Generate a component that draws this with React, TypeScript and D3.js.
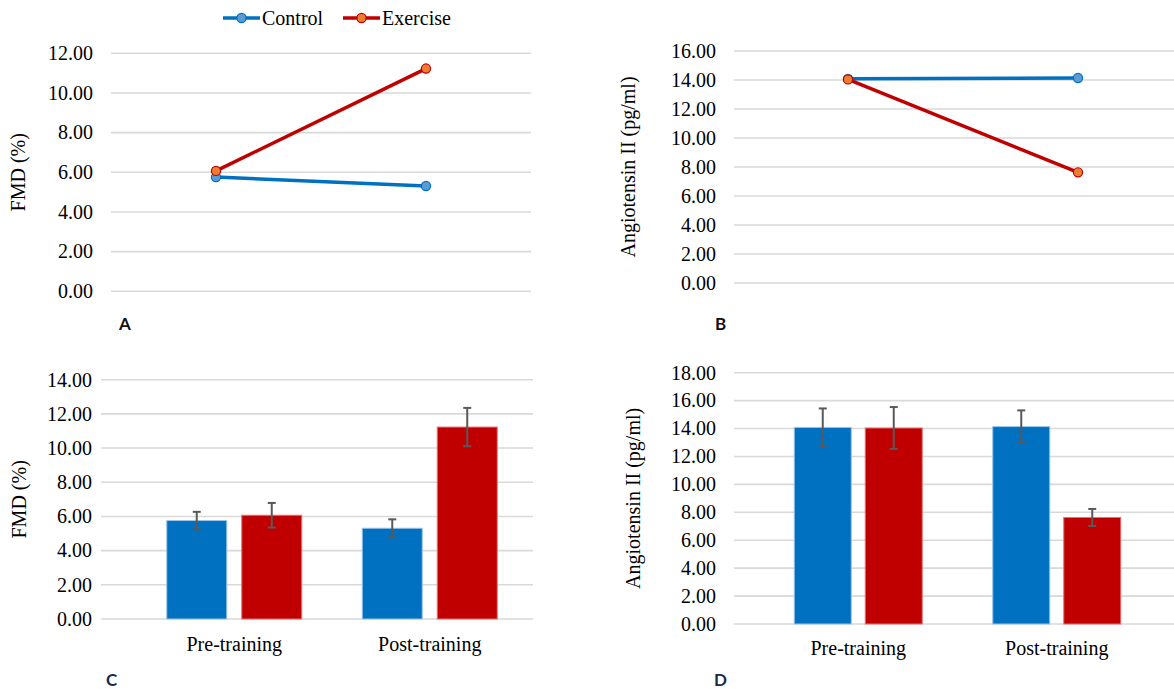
import React from "react";
import * as d3 from "d3";

// ---------- data ----------
const phases = ["Pre-training", "Post-training"];
const groups = ["Control", "Exercise"];

const fmdControl = [5.76, 5.31];
const fmdExercise = [6.07, 11.23];
const fmdControlErr = [0.51, 0.52];
const fmdExerciseErr = [0.72, 1.12];

const angControl = [14.08, 14.14];
const angExercise = [14.04, 7.63];
const angControlErr = [1.36, 1.16];
const angExerciseErr = [1.5, 0.61];

const fmdLineTicks = [0, 2, 4, 6, 8, 10, 12];
const angLineTicks = [0, 2, 4, 6, 8, 10, 12, 14, 16];
const fmdBarTicks = [0, 2, 4, 6, 8, 10, 12, 14];
const angBarTicks = [0, 2, 4, 6, 8, 10, 12, 14, 16, 18];

const BLUE = "#0070C0";
const RED = "#C00000";
const BLUE_MK = "#5B9BD5";
const RED_MK = "#ED7D31";
const GRID = "#D9D9D9";
const SERIF = "'Liberation Serif', 'Times New Roman', serif";
const SANS = "Lato, 'Open Sans', 'Liberation Sans', sans-serif";
const fmt = d3.format(".2f");

type Panel = {
  gx0: number; gx1: number; y0: number; y1: number; max: number;
  ticks: number[]; labelX: number; titleX: number; title: string;
};

function Grid({ p, y }: { p: Panel; y: d3.ScaleLinear<number, number> }) {
  return (
    <g>
      {p.ticks.map((t) => (
        <g key={t}>
          <line x1={p.gx0} x2={p.gx1} y1={y(t)} y2={y(t)} stroke={GRID} strokeWidth={1.6} />
          <text x={p.labelX} y={y(t)} dy="0.34em" textAnchor="end" fontFamily={SERIF} fontSize={20} fill="#000">
            {fmt(t)}
          </text>
        </g>
      ))}
      <text
        transform={`translate(${p.titleX},${(y(0) + y(p.max)) / 2}) rotate(-90)`}
        textAnchor="middle" dy="0.34em" fontFamily={SERIF} fontSize={20} fill="#000"
      >
        {p.title}
      </text>
    </g>
  );
}

function LinePanel({ p, bx0, bx1, control, exercise }: { p: Panel; bx0: number; bx1: number; control: number[]; exercise: number[] }) {
  const y = d3.scaleLinear().domain([0, p.max]).range([p.y0, p.y1]);
  const x = d3.scaleBand().domain(phases).range([bx0, bx1]);
  const cx = (d: string) => (x(d) as number) + x.bandwidth() / 2;
  const line = d3.line<number>().x((_, i) => cx(phases[i])).y((v) => y(v));
  const series = [
    { vals: control, c: BLUE, mk: BLUE_MK },
    { vals: exercise, c: RED, mk: RED_MK },
  ];
  return (
    <g>
      <Grid p={p} y={y} />
      {series.map((s, si) => (
        <g key={si}>
          <path d={line(s.vals) || ""} fill="none" stroke={s.c} strokeWidth={3.5} />
          {s.vals.map((v, i) => (
            <circle key={i} cx={cx(phases[i])} cy={y(v)} r={4.6} fill={s.mk} stroke={s.c} strokeWidth={1.2} />
          ))}
        </g>
      ))}
    </g>
  );
}

function BarPanel({ p, bx0, bx1, inner, pad, control, exercise, cErr, eErr, catY }: {
  p: Panel; bx0: number; bx1: number; inner: number; pad: number;
  control: number[]; exercise: number[]; cErr: number[]; eErr: number[]; catY: number;
}) {
  const y = d3.scaleLinear().domain([0, p.max]).range([p.y0, p.y1]);
  const x = d3.scaleBand().domain(phases).range([bx0, bx1]);
  const xi = d3.scaleBand().domain(groups).range([-inner, inner]).paddingInner(pad);
  const series = [
    { g: "Control", vals: control, err: cErr, c: BLUE, s: "#9DC3E6" },
    { g: "Exercise", vals: exercise, err: eErr, c: RED, s: "#E57373" },
  ];
  return (
    <g>
      <Grid p={p} y={y} />
      {phases.map((ph, i) => {
        const c = (x(ph) as number) + x.bandwidth() / 2;
        return (
          <g key={ph}>
            {series.map((s) => {
              const left = c + (xi(s.g) as number);
              const mid = left + xi.bandwidth() / 2;
              const v = s.vals[i];
              const e = s.err[i];
              return (
                <g key={s.g}>
                  <rect x={left} y={y(v)} width={xi.bandwidth()} height={y(0) - y(v)} fill={s.c} stroke={s.s} strokeWidth={1} />
                  <line x1={mid} x2={mid} y1={y(v + e)} y2={y(v - e)} stroke="#595959" strokeWidth={2} />
                  <line x1={mid - 4} x2={mid + 4} y1={y(v + e)} y2={y(v + e)} stroke="#595959" strokeWidth={2} />
                  <line x1={mid - 4} x2={mid + 4} y1={y(v - e)} y2={y(v - e)} stroke="#595959" strokeWidth={2} />
                </g>
              );
            })}
            <text x={c} y={catY} textAnchor="middle" fontFamily={SERIF} fontSize={20} fill="#000">{ph}</text>
          </g>
        );
      })}
    </g>
  );
}

export default function App() {
  const pA: Panel = { gx0: 111, gx1: 531, y0: 291.3, y1: 53.3, max: 12, ticks: fmdLineTicks, labelX: 93, titleX: 18, title: "FMD (%)" };
  const pB: Panel = { gx0: 734, gx1: 1174, y0: 283, y1: 51, max: 16, ticks: angLineTicks, labelX: 716, titleX: 628, title: "Angiotensin II (pg/ml)" };
  const pC: Panel = { gx0: 101, gx1: 533, y0: 619, y1: 379.7, max: 14, ticks: fmdBarTicks, labelX: 92, titleX: 19, title: "FMD (%)" };
  const pD: Panel = { gx0: 734, gx1: 1174, y0: 624, y1: 372.7, max: 18, ticks: angBarTicks, labelX: 716, titleX: 633, title: "Angiotensin II (pg/ml)" };

  const legend = [
    { g: groups[0], x: 223, c: BLUE, mk: BLUE_MK },
    { g: groups[1], x: 343, c: RED, mk: RED_MK },
  ];

  return (
    <svg width={1174} height={689} style={{ position: "absolute", left: 0, top: 0, background: "#fff" }}>
      <rect width={1174} height={689} fill="#fff" />
      {legend.map((l) => (
        <g key={l.g}>
          <line x1={l.x} x2={l.x + 37} y1={18} y2={18} stroke={l.c} strokeWidth={3.5} />
          <circle cx={l.x + 18.5} cy={18} r={4.6} fill={l.mk} stroke={l.c} strokeWidth={1.2} />
          <text x={l.x + 39} y={25} fontFamily={SERIF} fontSize={20} fill="#000">{l.g}</text>
        </g>
      ))}
      <LinePanel p={pA} bx0={111} bx1={531} control={fmdControl} exercise={fmdExercise} />
      <LinePanel p={pB} bx0={733} bx1={1193} control={angControl} exercise={angExercise} />
      <BarPanel p={pC} bx0={136.5} bx1={527.5} inner={67.5} pad={0.2} control={fmdControl} exercise={fmdExercise} cErr={fmdControlErr} eErr={fmdExerciseErr} catY={651} />
      <BarPanel p={pD} bx0={759} bx1={1156} inner={64} pad={0.197} control={angControl} exercise={angExercise} cErr={angControlErr} eErr={angExerciseErr} catY={655} />
      <text x={119} y={330} fontFamily={SANS} fontWeight="bold" fontSize={17} fill="#111">A</text>
      <text x={715} y={330} fontFamily={SANS} fontWeight="bold" fontSize={17} fill="#111">B</text>
      <text x={106} y={686} fontFamily={SANS} fontWeight="bold" fontSize={17} fill="#1b2a4a">C</text>
      <text x={714} y={686} fontFamily={SANS} fontWeight="bold" fontSize={17} fill="#1b2a4a">D</text>
    </svg>
  );
}
